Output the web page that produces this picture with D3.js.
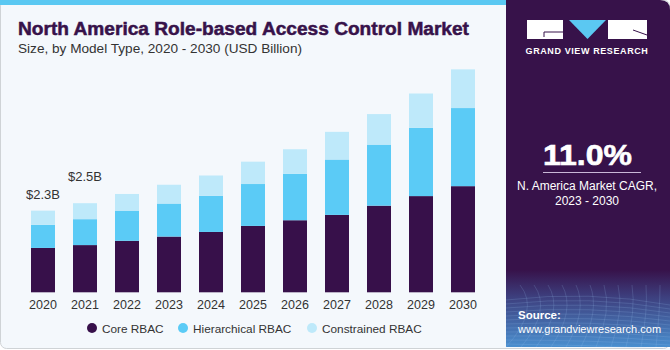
<!DOCTYPE html>
<html lang="en">
<head>
    <meta charset="UTF-8">
    <title>North America RBAC Market</title>
    <script src="https://cdn.jsdelivr.net/npm/d3@7"></script>
    <style>
        body { margin: 0; background: #fff; }
        svg { display: block; font-family: "Liberation Sans", Arial, sans-serif; }
    </style>
</head>
<body>
    <svg width="670" height="350"></svg>
    <script>
        var years = ["2020", "2021", "2022", "2023", "2024", "2025", "2026", "2027", "2028", "2029", "2030"];
        var core = [1.25, 1.33, 1.45, 1.57, 1.70, 1.87, 2.03, 2.18, 2.44, 2.71, 2.99];
        var hierarchical = [0.65, 0.73, 0.85, 0.93, 1.02, 1.18, 1.31, 1.56, 1.72, 1.92, 2.20];
        var constrained = [0.40, 0.45, 0.47, 0.53, 0.57, 0.63, 0.69, 0.78, 0.86, 0.97, 1.09];
        var seriesNames = ["Core RBAC", "Hierarchical RBAC", "Constrained RBAC"];
        var valueLabels = [{ year: "2020", text: "$2.3B" }, { year: "2021", text: "$2.5B" }];
        var cagr = "11.0%";

        var colors = ["#37104a", "#5bcbf6", "#bee9fa"];

        var svg = d3.select("svg");

        // background panels
        svg.append("rect").attr("x", 0.5).attr("y", 0).attr("width", 669).attr("height", 348.5)
            .attr("rx", 6).attr("fill", "#f4f8fc").attr("stroke", "#cfd3d6");
        svg.append("rect").attr("x", 0).attr("y", 0).attr("width", 506).attr("height", 5).attr("fill", "#5ac8f2");

        var defs = svg.append("defs");
        var grad = defs.append("linearGradient").attr("id", "src").attr("x1", 0).attr("y1", 0).attr("x2", 0).attr("y2", 1);
        grad.append("stop").attr("offset", "0%").attr("stop-color", "#37124a");
        grad.append("stop").attr("offset", "35%").attr("stop-color", "#3d3f7e");
        grad.append("stop").attr("offset", "100%").attr("stop-color", "#4a8fcf");

        var panel = svg.append("g");
        panel.append("path")
            .attr("d", "M506,0 H660 Q670,0 670,10 V347 H506 Z")
            .attr("fill", "#37124a");
        panel.append("rect").attr("x", 506).attr("y", 270).attr("width", 164).attr("height", 77).attr("fill", "url(#src)");
        // faint mesh on source area
        var mesh = panel.append("g").attr("stroke", "#9cc4ee").attr("stroke-opacity", 0.18).attr("fill", "none");
        d3.range(0, 12).forEach(function (i) {
            mesh.append("path").attr("d", "M" + (506 + i * 15) + ",347 Q" + (540 + i * 12) + ",310 " + (520 + i * 14) + ",285");
            mesh.append("path").attr("d", "M506," + (300 + i * 4) + " Q590," + (290 + i * 5) + " 670," + (305 + i * 4));
        });

        // logo
        var logo = panel.append("g");
        logo.append("rect").attr("x", 527).attr("y", 20).attr("width", 36).attr("height", 19).attr("fill", "#fff");
        logo.append("path").attr("d", "M544,37 V32 H563").attr("stroke", "#37124a").attr("stroke-width", 1).attr("fill", "none");
        logo.append("path").attr("d", "M569,20 H606 L587.5,39 Z").attr("fill", "#5bc8f2");
        logo.append("rect").attr("x", 608).attr("y", 20).attr("width", 39).attr("height", 19).attr("fill", "#fff");
        logo.append("path").attr("d", "M633,30 L647,35").attr("stroke", "#37124a").attr("stroke-width", 1);
        logo.append("text").attr("x", 587).attr("y", 54).attr("text-anchor", "middle")
            .attr("font-size", 9).attr("font-weight", "bold").attr("fill", "#fff")
            .attr("letter-spacing", 0.6).text("GRAND VIEW RESEARCH");

        // CAGR block
        panel.append("text").attr("x", 543).attr("y", 165)
            .attr("font-size", 29).attr("font-weight", "bold").attr("fill", "#fff")
            .attr("stroke", "#fff").attr("stroke-width", 0.6)
            .attr("textLength", 89).attr("lengthAdjust", "spacingAndGlyphs").text(cagr);
        panel.append("line").attr("x1", 543).attr("x2", 641).attr("y1", 172.5).attr("y2", 172.5)
            .attr("stroke", "#c9b8d8").attr("stroke-width", 1);
        panel.append("text").attr("x", 587).attr("y", 190).attr("text-anchor", "middle")
            .attr("font-size", 12).attr("fill", "#fff").text("N. America Market CAGR,");
        panel.append("text").attr("x", 587).attr("y", 205).attr("text-anchor", "middle")
            .attr("font-size", 12).attr("fill", "#fff").text("2023 - 2030");

        panel.append("text").attr("x", 518).attr("y", 319).attr("font-size", 11.5).attr("font-weight", "bold")
            .attr("fill", "#fff").text("Source:");
        panel.append("text").attr("x", 518).attr("y", 333).attr("font-size", 11)
            .attr("fill", "#fff").text("www.grandviewresearch.com");

        // titles
        svg.append("text").attr("x", 18).attr("y", 35).attr("font-size", 18).attr("font-weight", "bold")
            .attr("fill", "#37124a").attr("stroke", "#37124a").attr("stroke-width", 0.5)
            .attr("textLength", 451).attr("lengthAdjust", "spacingAndGlyphs")
            .text("North America Role-based Access Control Market");
        svg.append("text").attr("x", 18).attr("y", 53).attr("font-size", 13.5)
            .attr("fill", "#333").attr("textLength", 284).attr("lengthAdjust", "spacingAndGlyphs")
            .text("Size, by Model Type, 2020 - 2030 (USD Billion)");

        // chart
        var x = d3.scaleBand().domain(years).range([22, 484]).paddingInner(18 / 42).paddingOuter(9 / 42);
        var y = d3.scaleLinear().domain([0, 7]).range([292.3, 292.3 - 7 * 35.5]);

        var table = years.map(function (yr, i) {
            return { year: yr, core: core[i], hier: hierarchical[i], cons: constrained[i] };
        });
        var stack = d3.stack().keys(["core", "hier", "cons"])(table);

        svg.append("g").selectAll("g").data(stack).join("g")
            .attr("fill", function (d, i) { return colors[i]; })
            .selectAll("rect").data(function (d) { return d; }).join("rect")
            .attr("x", function (d) { return x(d.data.year); })
            .attr("y", function (d) { return y(d[1]); })
            .attr("width", x.bandwidth())
            .attr("height", function (d) { return y(d[0]) - y(d[1]); });

        var xAxis = svg.append("g").attr("transform", "translate(0,292)")
            .call(d3.axisBottom(x).tickSize(0).tickPadding(8));
        xAxis.select(".domain").remove();
        xAxis.selectAll("text").attr("font-size", 12.5).attr("fill", "#333")
            .attr("font-family", "Liberation Sans, Arial, sans-serif");

        var totals = {};
        table.forEach(function (d) { totals[d.year] = d.core + d.hier + d.cons; });
        svg.append("g").selectAll("text").data(valueLabels).join("text")
            .attr("x", function (d) { return x(d.year) + x.bandwidth() / 2; })
            .attr("y", function (d, i) { return y(totals[d.year]) - (i === 0 ? 12 : 22); })
            .attr("text-anchor", "middle").attr("font-size", 13).attr("fill", "#333")
            .text(function (d) { return d.text; });

        // legend
        var legendX = [92, 183, 312];
        var legend = svg.append("g").selectAll("g").data(seriesNames).join("g")
            .attr("transform", function (d, i) { return "translate(" + legendX[i] + ",328)"; });
        legend.append("circle").attr("r", 5).attr("fill", function (d, i) { return colors[i]; });
        legend.append("text").attr("x", 10).attr("y", 4.5).attr("font-size", 11.8).attr("fill", "#333")
            .text(function (d) { return d; });
    </script>
</body>
</html>
